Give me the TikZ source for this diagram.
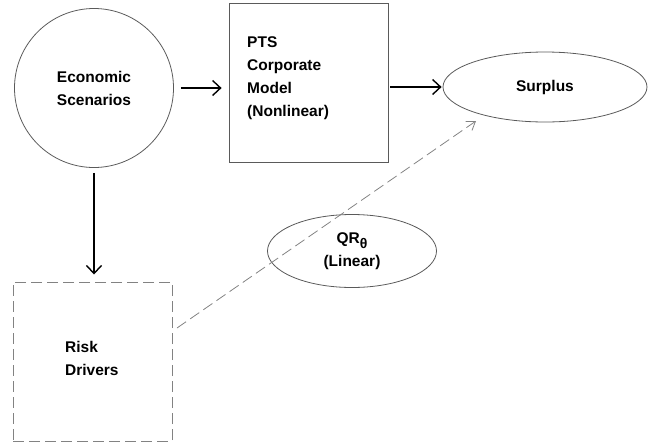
\documentclass[tikz,border=0pt]{standalone}
\usepackage{fontspec}
\setmainfont{Liberation Sans}
\usetikzlibrary{arrows.meta,shapes.geometric}
\definecolor{outline}{RGB}{90,90,90}
\definecolor{dashgray}{RGB}{130,130,130}
\begin{document}
\begin{tikzpicture}[x=1pt,y=-1pt,
  every node/.style={font=\fontsize{15.5}{23}\selectfont\bfseries, inner sep=0pt},
  shapeline/.style={draw=outline, line width=0.8pt},
  txtblock/.style={align=left, anchor=west},
  arr/.style={draw=black, line width=1.6pt, -{Straight Barb[length=8pt,width=15pt,line width=1.4pt]}},
  dasharr/.style={draw=dashgray, line width=0.8pt, dash pattern=on 11pt off 5pt,
    -{Straight Barb[length=8pt,width=11pt,line width=0.8pt]}},
  dashbox/.style={draw=dashgray, line width=1pt, dash pattern=on 11pt off 5pt}]
  \useasboundingbox (0,0) rectangle (648,445);

  % nodes
  \node[circle, shapeline, minimum size=159pt, align=center] (econ) at (94,88)
    {Economic\\Scenarios};
  \node[rectangle, shapeline, minimum width=159pt, minimum height=159pt] (pts) at (308.5,82.5) {};
  \node[txtblock] (ptstext) at (247,78) {PTS\\Corporate\\Model\\(Nonlinear)};
  \node[ellipse, shapeline, minimum width=204pt, minimum height=70pt] (surplus) at (545,87) {Surplus};
  \node[rectangle, dashbox, minimum width=159pt, minimum height=159pt] (risk) at (92.5,361.5) {};
  \node[txtblock] (risktext) at (65,358) {Risk\\Drivers};
  \node[ellipse, shapeline, minimum width=169pt, minimum height=73pt, align=center] (qr) at (352,251)
    {QR\raisebox{-5pt}{\fontsize{14}{14}\selectfont θ}\\(Linear)};

  % connectors
  \draw[arr, shorten <=7pt, shorten >=7pt] (econ.east) -- (econ.east -| pts.west);
  \draw[arr, shorten <=2pt, shorten >=1pt] (pts.east |- surplus.west) -- (surplus.west);
  \draw[arr, shorten <=5pt, shorten >=7pt] (econ.south) -- (econ.south |- risk.north);
  \coordinate (dstart) at (177,328);
  \coordinate (dend) at (476,121);
  \draw[dasharr] (dstart) -- (dend);
\end{tikzpicture}
\end{document}
